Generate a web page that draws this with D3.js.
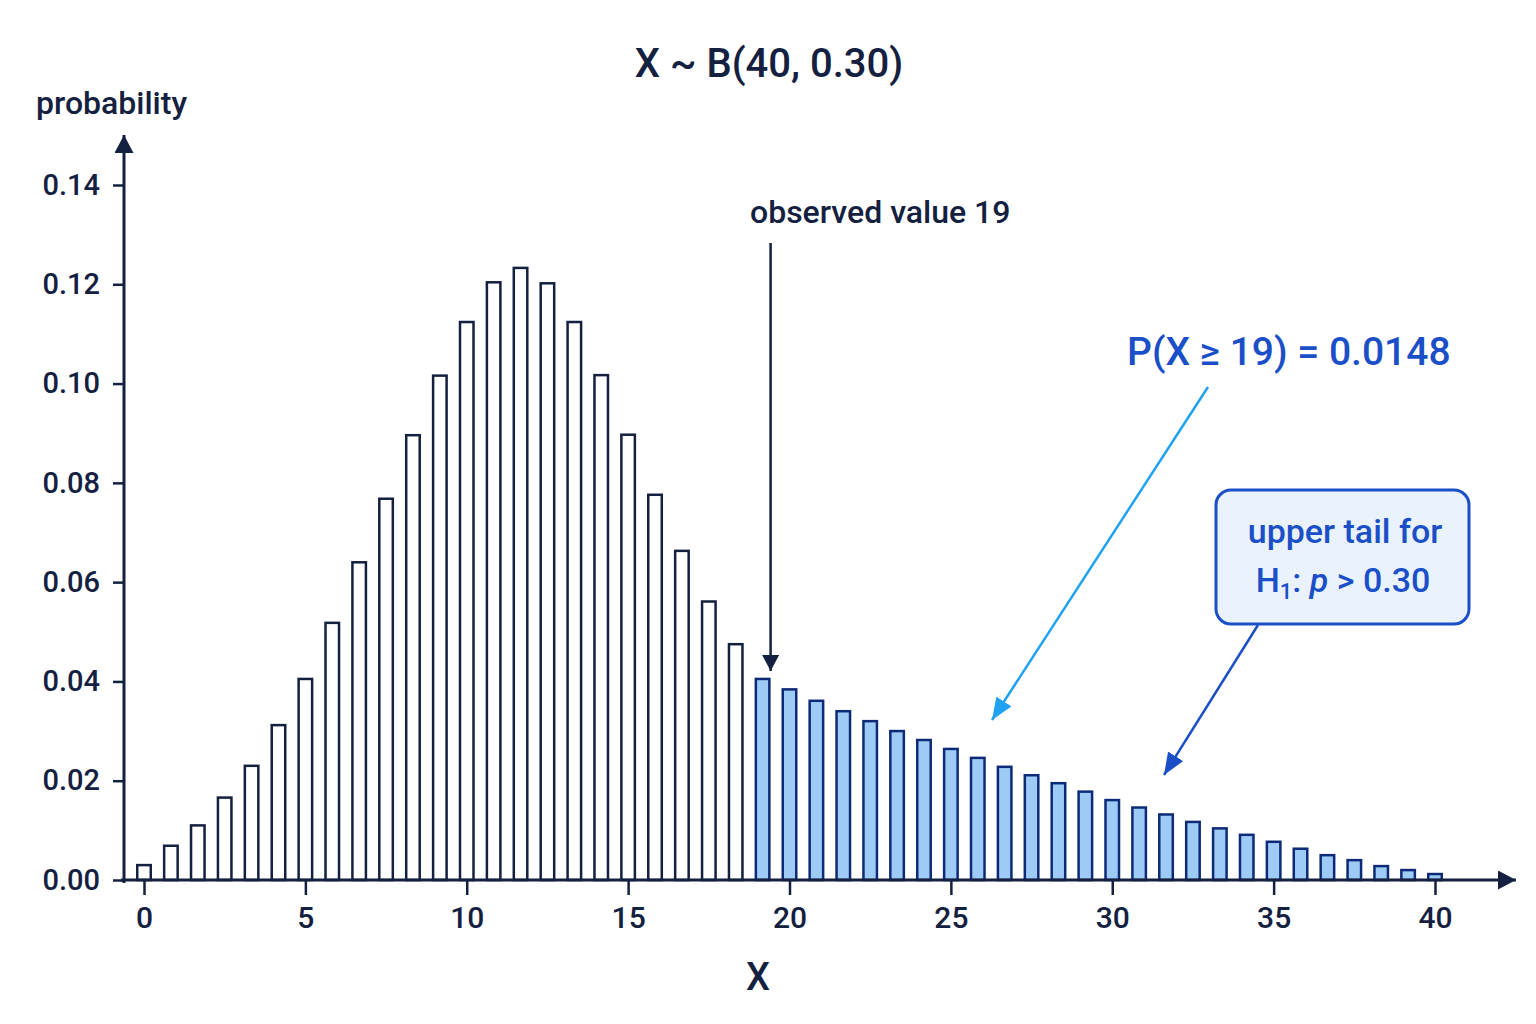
<!DOCTYPE html>
<html lang="en">
<head>
<meta charset="UTF-8">
<title>X ~ B(40, 0.30)</title>
<script src="https://d3js.org/d3.v7.min.js"></script>
<style>
    body { margin: 0; background: #ffffff; }
    svg text { font-family: Roboto, "Noto Sans", sans-serif; fill: #14203f; font-weight: 500; }
</style>
</head>
<body>
<svg id="chart" width="1536" height="1024"></svg>
<script>
// values
const xTicks = [0, 5, 10, 15, 20, 25, 30, 35, 40];
const yTicks = [0, 0.02, 0.04, 0.06, 0.08, 0.10, 0.12, 0.14];
const bodyProbs = [0.0030, 0.0069, 0.0110, 0.0166, 0.0230, 0.0312, 0.0405, 0.0518,
                   0.0640, 0.0768, 0.0896, 0.1016, 0.1124, 0.1204, 0.1233, 0.1202,
                   0.1124, 0.1017, 0.0897, 0.0776, 0.0663, 0.0561, 0.0475];
const tailProbs = [0.0405, 0.0384, 0.0361, 0.0340, 0.0320, 0.0300, 0.0282, 0.0264,
                   0.0246, 0.0228, 0.0211, 0.0195, 0.0178, 0.0161, 0.0146, 0.0132,
                   0.0117, 0.0104, 0.0091, 0.0077, 0.0063, 0.0050, 0.0040, 0.0028,
                   0.0020, 0.0012];

const navy = "#14203f";
const tailStroke = "#0c2a78";
const tailFill = "#9ecbf6";
const annBlue = "#1a4fc8";
const lightBlue = "#1fa2f2";

const svg = d3.select("#chart");

const x = d3.scaleLinear().domain([0, 40]).range([144, 1435]);
const y = d3.scaleLinear().domain([0, 0.14]).range([880, 185]);

const bars = bodyProbs.map(p => ({ p, tail: false }))
    .concat(tailProbs.map(p => ({ p, tail: true })));
bars.forEach((d, i) => d.i = i);

const barPos = d3.scalePoint()
    .domain(d3.range(bars.length))
    .range([x(0), x(40)]);
const barW = 13.5;

// arrow markers
const defs = svg.append("defs");
function marker(id, color, w, l) {
    defs.append("marker")
        .attr("id", id)
        .attr("viewBox", `0 ${-w / 2} ${l} ${w}`)
        .attr("refX", l).attr("refY", 0)
        .attr("markerUnits", "userSpaceOnUse")
        .attr("markerWidth", l).attr("markerHeight", w)
        .attr("orient", "auto")
        .append("path")
        .attr("d", `M0,${-w / 2}L${l},0L0,${w / 2}Z`)
        .attr("fill", color);
}
marker("axisHead", navy, 19, 18);
marker("obsHead", navy, 17, 16);
marker("lightHead", lightBlue, 18, 22);
marker("darkHead", annBlue, 18, 22);

// bars
svg.append("g")
    .selectAll("rect")
    .data(bars)
    .join("rect")
        .attr("x", d => barPos(d.i) - barW / 2)
        .attr("y", d => y(d.p))
        .attr("width", barW)
        .attr("height", d => y(0) - y(d.p))
        .attr("fill", d => d.tail ? tailFill : "#ffffff")
        .attr("stroke", d => d.tail ? tailStroke : navy)
        .attr("stroke-width", 2.5);

// x axis
const xAxis = svg.append("g")
    .attr("transform", `translate(0,${y(0)})`)
    .call(d3.axisBottom(x).tickValues(xTicks).tickSize(15).tickPadding(12).tickSizeOuter(0));
xAxis.select(".domain").remove();
xAxis.selectAll(".tick line").attr("stroke", navy).attr("stroke-width", 2.5);
xAxis.selectAll(".tick text").attr("font-size", 30).attr("fill", navy);

svg.append("line")
    .attr("x1", 121).attr("x2", 1516)
    .attr("y1", y(0)).attr("y2", y(0))
    .attr("stroke", navy).attr("stroke-width", 3)
    .attr("marker-end", "url(#axisHead)");

// y axis
const yAxis = svg.append("g")
    .attr("transform", `translate(124,0)`)
    .call(d3.axisLeft(y).tickValues(yTicks).tickFormat(d3.format(".2f"))
        .tickSize(11).tickPadding(13).tickSizeOuter(0));
yAxis.select(".domain").remove();
yAxis.selectAll(".tick line").attr("stroke", navy).attr("stroke-width", 2.5);
yAxis.selectAll(".tick text").attr("font-size", 29).attr("fill", navy);

svg.append("line")
    .attr("x1", 124).attr("x2", 124)
    .attr("y1", y(0) + 3).attr("y2", 135)
    .attr("stroke", navy).attr("stroke-width", 3)
    .attr("marker-end", "url(#axisHead)");

// titles
svg.append("text")
    .attr("x", 769).attr("y", 77)
    .attr("text-anchor", "middle")
    .attr("font-size", 40)
    .text("X ~ B(40, 0.30)");

svg.append("text")
    .attr("x", 36).attr("y", 114)
    .attr("font-size", 32)
    .text("probability");

svg.append("text")
    .attr("x", 758).attr("y", 990)
    .attr("text-anchor", "middle")
    .attr("font-size", 38)
    .text("X");

// observed value annotation
const obsX = barPos(bodyProbs.length) + 8;
svg.append("text")
    .attr("x", 750).attr("y", 223)
    .attr("font-size", 32)
    .text("observed value 19");
svg.append("line")
    .attr("x1", obsX).attr("x2", obsX)
    .attr("y1", 243).attr("y2", y(tailProbs[0]) - 8)
    .attr("stroke", navy).attr("stroke-width", 2.5)
    .attr("marker-end", "url(#obsHead)");

// tail probability annotation
svg.append("text")
    .attr("x", 1127).attr("y", 365)
    .attr("font-size", 39)
    .style("fill", annBlue)
    .text("P(X \u2265 19) = 0.0148");
svg.append("line")
    .attr("x1", 1208).attr("y1", 387)
    .attr("x2", 992).attr("y2", 720)
    .attr("stroke", lightBlue).attr("stroke-width", 2.5)
    .attr("marker-end", "url(#lightHead)");

// H1 box
svg.append("rect")
    .attr("x", 1216).attr("y", 490)
    .attr("width", 253).attr("height", 134)
    .attr("rx", 15)
    .attr("fill", "#e9f2fd")
    .attr("stroke", annBlue).attr("stroke-width", 3);
svg.append("text")
    .attr("x", 1345).attr("y", 543)
    .attr("text-anchor", "middle")
    .attr("font-size", 34)
    .style("fill", annBlue)
    .text("upper tail for");
const h1 = svg.append("text")
    .attr("x", 1343).attr("y", 592)
    .attr("text-anchor", "middle")
    .attr("font-size", 34)
    .style("fill", annBlue);
h1.append("tspan").text("H");
h1.append("tspan").attr("font-size", 22).attr("dy", 7).text("1");
h1.append("tspan").attr("dy", -7).text(": ");
h1.append("tspan").attr("font-style", "italic").text("p");
h1.append("tspan").text(" > 0.30");
svg.append("line")
    .attr("x1", 1258).attr("y1", 625)
    .attr("x2", 1164).attr("y2", 775)
    .attr("stroke", annBlue).attr("stroke-width", 2.5)
    .attr("marker-end", "url(#darkHead)");
</script>
</body>
</html>
